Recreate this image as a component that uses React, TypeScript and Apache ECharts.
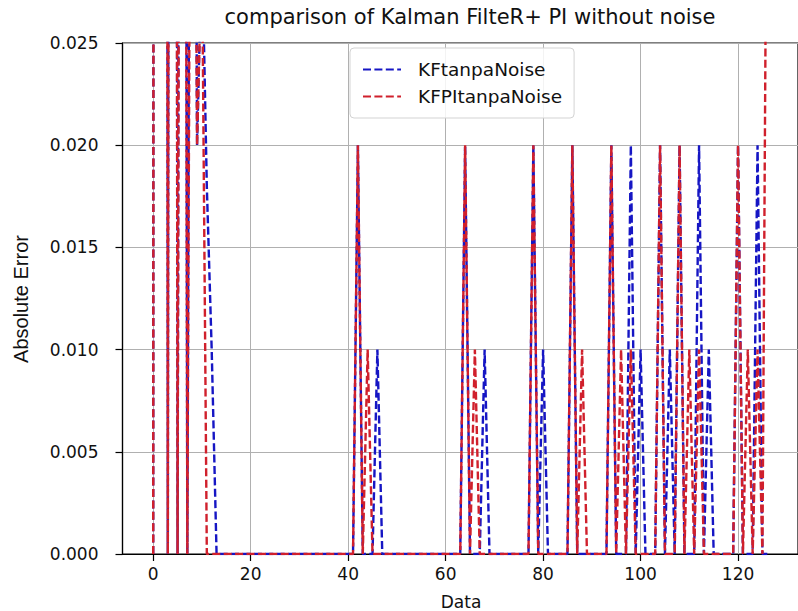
import React, { useEffect, useRef } from "react";
import * as echarts from "echarts";

const chartTitle = "comparison of Kalman FilteR+ PI without noise";
const xName = "Data";
const yName = "Absolute Error";
const seriesNames = ["KFtanpaNoise", "KFPItanpaNoise"];
const xTicks = [0, 20, 40, 60, 80, 100, 120];

// index = Data (0..126)
const kfTanpaNoise = [
  0, 0.6, 0.35, 0, 0.25, 0, 0.15, 0, 0.08, 0.02,
  0.03, 0.018, 0.01, 0, 0, 0, 0, 0, 0, 0,
  0, 0, 0, 0, 0, 0, 0, 0, 0, 0,
  0, 0, 0, 0, 0, 0, 0, 0, 0, 0,
  0, 0, 0.02, 0, 0, 0, 0.01, 0, 0, 0,
  0, 0, 0, 0, 0, 0, 0, 0, 0, 0,
  0, 0, 0, 0, 0.02, 0, 0, 0, 0.01, 0,
  0, 0, 0, 0, 0, 0, 0, 0, 0.02, 0,
  0.01, 0, 0, 0, 0, 0, 0.02, 0, 0, 0,
  0, 0, 0, 0, 0.02, 0, 0, 0, 0.02, 0,
  0.01, 0, 0, 0, 0.02, 0, 0.01, 0, 0.02, 0,
  0, 0, 0.02, 0, 0.01, 0, 0, 0, 0, 0,
  0.02, 0, 0, 0, 0.02, 0, 0,
];

const kfpiTanpaNoise = [
  0, 0.5, 0.3, 0, 0.2, 0, 0.12, 0, 0.06, 0.02,
  0.03, 0, 0, 0, 0, 0, 0, 0, 0, 0,
  0, 0, 0, 0, 0, 0, 0, 0, 0, 0,
  0, 0, 0, 0, 0, 0, 0, 0, 0, 0,
  0, 0, 0.02, 0, 0.01, 0, 0, 0, 0, 0,
  0, 0, 0, 0, 0, 0, 0, 0, 0, 0,
  0, 0, 0, 0, 0.02, 0, 0.01, 0, 0, 0,
  0, 0, 0, 0, 0, 0, 0, 0, 0.02, 0,
  0, 0, 0, 0, 0, 0, 0.02, 0, 0.01, 0,
  0, 0, 0, 0, 0.02, 0, 0.01, 0, 0.01, 0,
  0, 0, 0, 0, 0.02, 0, 0, 0, 0.02, 0,
  0.01, 0, 0.01, 0, 0, 0, 0, 0, 0, 0,
  0.02, 0, 0.01, 0, 0.01, 0, 0.04,
];

const BLUE = "#1616c4";
const RED = "#d0202c";
const FONT = '"DejaVu Sans", sans-serif';

export default function App() {
  const ref = useRef<HTMLDivElement>(null);
  useEffect(() => {
    const chart = echarts.init(ref.current!, null, { renderer: "svg" });
    const dash = [8, 3.4];
    chart.setOption({
      animation: false,
      backgroundColor: "#ffffff",
      grid: {
        left: 122.5,
        top: 43,
        width: 677,
        height: 511,
        show: true,
        borderColor: "#000",
        borderWidth: 1.2,
        backgroundColor: "transparent",
        containLabel: false,
      },
      legend: {
        data: seriesNames,
        orient: "vertical",
        left: 350,
        top: 48,
        itemWidth: 38,
        itemHeight: 14,
        itemGap: 8,
        padding: [12, 12, 12, 12],
        backgroundColor: "rgba(255,255,255,0.85)",
        borderColor: "#d3d3d3",
        borderWidth: 1,
        borderRadius: 4,
        itemStyle: { opacity: 0 },
        textStyle: { fontSize: 18.5, fontFamily: FONT, color: "#111", padding: [0, 0, 0, 12] },
      },
      xAxis: {
        type: "value",
        min: -6.3,
        max: 132.3,
        splitNumber: 7,
        axisLine: { show: true, onZero: false, lineStyle: { color: "#000", width: 1.2 } },
        axisTick: { show: true, length: 7, customValues: xTicks, lineStyle: { color: "#000", width: 1.2 } },
        axisLabel: {
          customValues: xTicks,
          fontSize: 17,
          fontFamily: FONT,
          color: "#111",
          margin: 11,
        },
        splitLine: { show: true, lineStyle: { color: "#b0b0b0", width: 1 } },
      },
      yAxis: {
        type: "value",
        min: 0,
        max: 0.025,
        interval: 0.005,
        axisLine: { show: true, onZero: false, lineStyle: { color: "#000", width: 1.2 } },
        axisTick: { show: true, length: 7, lineStyle: { color: "#000", width: 1.2 } },
        axisLabel: {
          fontSize: 17,
          fontFamily: FONT,
          color: "#111",
          margin: 24,
          formatter: (v: number) => v.toFixed(3),
        },
        splitLine: { show: true, lineStyle: { color: "#b0b0b0", width: 1 } },
      },
      series: [
        {
          name: seriesNames[0],
          type: "line",
          data: kfTanpaNoise.map((v, i) => [i, v]),
          symbol: "none",
          showSymbol: false,
          clip: true,
          z: 2,
          itemStyle: { color: BLUE },
          lineStyle: { color: BLUE, width: 2.4, type: dash },
        },
        {
          name: seriesNames[1],
          type: "line",
          data: kfpiTanpaNoise.map((v, i) => [i, v]),
          symbol: "none",
          showSymbol: false,
          clip: true,
          z: 3,
          itemStyle: { color: RED },
          lineStyle: { color: RED, width: 2.4, type: dash },
        },
      ],
      graphic: [
        {
          type: "text",
          x: 470,
          y: 6,
          style: {
            text: chartTitle,
            font: `21px ${FONT}`,
            fill: "#111",
            textAlign: "center",
            textVerticalAlign: "top",
          },
        },
        {
          type: "text",
          x: 461,
          y: 593,
          style: {
            text: xName,
            font: `17px ${FONT}`,
            fill: "#111",
            textAlign: "center",
            textVerticalAlign: "top",
          },
        },
        {
          type: "text",
          x: 21,
          y: 299,
          rotation: Math.PI / 2,
          style: {
            text: yName,
            font: '20px "Liberation Sans", Arial, sans-serif',
            fill: "#111",
            textAlign: "center",
            textVerticalAlign: "middle",
          },
        },
      ],
    });
    return () => chart.dispose();
  }, []);
  return (
    <div
      ref={ref}
      style={{ position: "fixed", left: 0, top: 0, width: 798, height: 611, background: "#fff" }}
    />
  );
}
